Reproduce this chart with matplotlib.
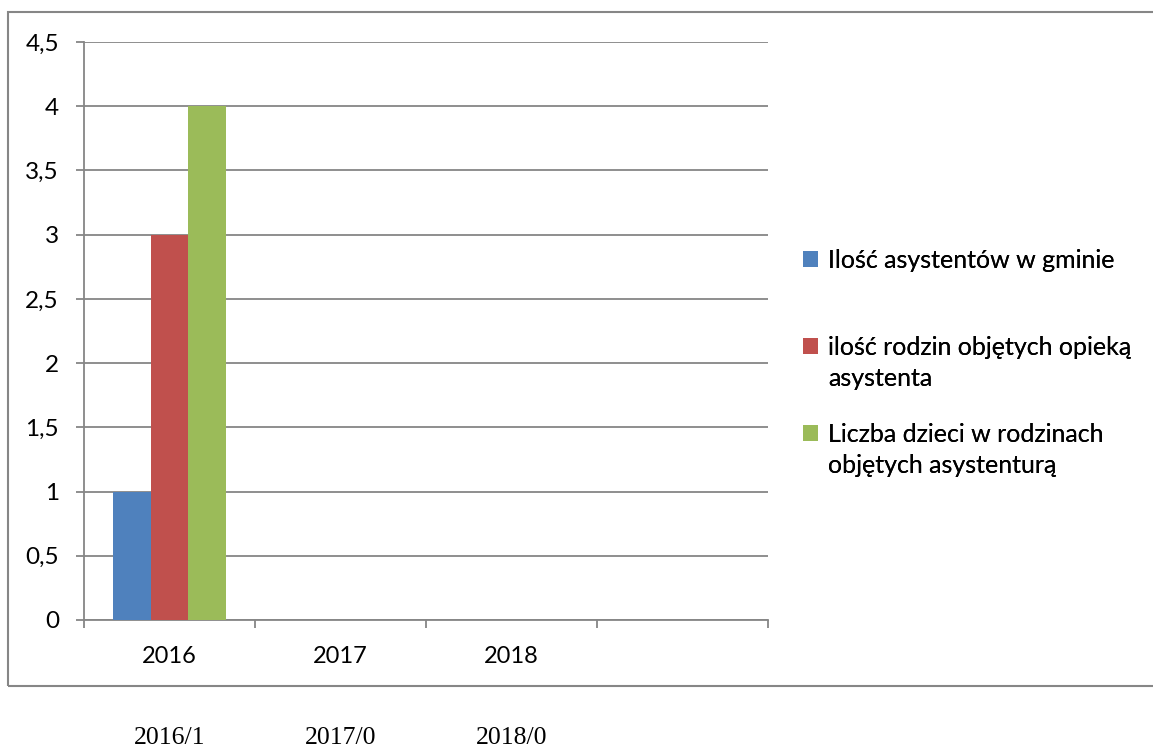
import matplotlib
matplotlib.use("Agg")
import matplotlib.pyplot as plt
import numpy as np
from matplotlib.patches import Rectangle, Patch
from matplotlib.ticker import FuncFormatter, MultipleLocator
from matplotlib.legend_handler import HandlerPatch

categories = ["2016", "2017", "2018", ""]
series_names = ["Ilość asystentów w gminie",
                "ilość rodzin objętych opieką\nasystenta",
                "Liczba dzieci w rodzinach\nobjętych asystenturą"]
asystenci = [1, 0, 0, 0]
rodziny = [3, 0, 0, 0]
dzieci = [4, 0, 0, 0]
colors = ["#4F81BD", "#C0504D", "#9BBB59"]
footer_labels = ["2016/1", "2017/0", "2018/0"]

plt.rcParams['font.family'] = ['Lato', 'DejaVu Sans']
grey = "#868686"
LEG_FS = 18
LEG_LS = 1.4

fig = plt.figure(figsize=(11.53, 7.47), dpi=100)
fig.patches.append(Rectangle((8/1153, 1-686/747), 1.2, (686-12)/747,
                             transform=fig.transFigure, fill=False,
                             edgecolor=grey, linewidth=1.5, zorder=0))

ax = fig.add_axes([84/1153, 1-620/747, (768-84)/1153, (620-42)/747])
x = np.arange(len(categories))
w = 0.222
handles = []
for i, (vals, c, name) in enumerate(zip([asystenci, rodziny, dzieci], colors, series_names)):
    ax.bar(x + (i-1)*w, vals, width=w, color=c, zorder=3)
    handles.append(Patch(facecolor=c, label=name))

ax.set_xlim(-0.5, len(categories)-0.5)
ax.set_ylim(0, 4.5)
ax.yaxis.set_major_locator(MultipleLocator(0.5))
ax.yaxis.set_major_formatter(FuncFormatter(lambda v, p: ('%g' % v).replace('.', ',')))
ax.grid(axis='y', color=grey, linewidth=1.3, zorder=0)
for s in ['top', 'right']:
    ax.spines[s].set_visible(False)
for s in ['left', 'bottom']:
    ax.spines[s].set_color(grey)
    ax.spines[s].set_linewidth(1.3)
ax.set_xticks(x)
ax.set_xticklabels(categories)
ax.set_xticks(np.arange(len(categories)+1) - 0.5, minor=True)
ax.tick_params(axis='x', which='major', length=0, pad=19, labelsize=17)
ax.tick_params(axis='x', which='minor', length=6, width=1.3, color=grey, direction='out')
ax.tick_params(axis='y', length=6, width=1.3, color=grey, pad=12, labelsize=17.5)


def make_handler(nlines):
    shift = (nlines - 1) * LEG_FS * LEG_LS / 2.0

    def pf(legend, orig_handle, xdescent, ydescent, width, height, fontsize):
        return Rectangle((-xdescent, -ydescent + shift), width, height)
    return HandlerPatch(patch_func=pf)


# legend entries positioned individually
ypos = [260, 363, 450]
for h, yp in zip(handles, ypos):
    nl = h.get_label().count("\n") + 1
    lg = fig.legend(handles=[h], loc='center left',
                    bbox_to_anchor=(803/1153, 1-yp/747), frameon=False,
                    fontsize=LEG_FS, handlelength=0.6, handleheight=0.6,
                    handletextpad=0.4, borderpad=0, borderaxespad=0,
                    handler_map={h: make_handler(nl)})
    for t in lg.get_texts():
        t.set_linespacing(LEG_LS)
    fig.add_artist(lg)

for lab, xc in zip(footer_labels, x[:3]):
    xd = ax.transData.transform((xc, 0))[0]
    fig.text(xd/1153, 1-738/747, lab, ha='center', va='center',
             family='Liberation Serif', fontsize=18.5)

fig.savefig("out.png", dpi=100)
